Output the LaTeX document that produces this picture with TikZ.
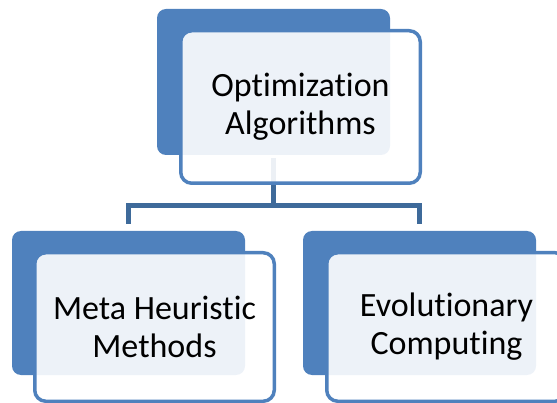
\documentclass[tikz,border=0pt]{standalone}
\usepackage{fontspec}
\setmainfont{Carlito}[Ligatures={NoCommon,NoContextual}]
\usetikzlibrary{calc}
\definecolor{accent}{HTML}{4F81BD}
\definecolor{linkblue}{HTML}{3E6A9A}
\begin{document}
\begin{tikzpicture}[x=1pt,y=1pt,
  backcard/.style={fill=accent, draw=none, rounded corners=9pt,
    minimum width=233pt, inner sep=0pt},
  frontcard/.style={draw=accent, line width=3.5pt, fill=white, fill opacity=0.9,
    text opacity=1, rounded corners=11pt, minimum width=239.5pt,
    inner sep=0pt, align=center, text=black,
    font=\fontsize{34}{38}\selectfont},
  link/.style={draw=linkblue, line width=5pt}]
\useasboundingbox (0,0) rectangle (557,402);

% back cards
\node[backcard, minimum height=146pt] (topback) at (273.5,320) {};
\node[backcard, minimum height=144pt] (leftback) at (128.5,99) {};
\node[backcard, minimum height=144pt] (rightback) at (419.5,99) {};

% connector tree
\coordinate (hub) at (topback.south |- 0,196.5);
\coordinate (lefthub) at (leftback.north |- hub);
\coordinate (righthub) at (rightback.north |- hub);
\coordinate (leftend) at ($(leftback.north)+(0,7)$);
\coordinate (rightend) at ($(rightback.north)+(0,7)$);
\draw[link] ($(topback.south)+(0,-3)$) -- (hub);
\draw[link] (leftend) -- (lefthub) -- (righthub) -- (rightend);

% front cards
\node[frontcard, minimum height=152.5pt] (top) at (300.5,295) {Optimization\\Algorithms};
\node[frontcard, minimum height=148.5pt] (left) at (154.5,75) {Meta Heuristic\\Methods};
\node[frontcard, minimum height=148.5pt] (right) at (446.5,75) {Evolutionary\\Computing};
\end{tikzpicture}
\end{document}
